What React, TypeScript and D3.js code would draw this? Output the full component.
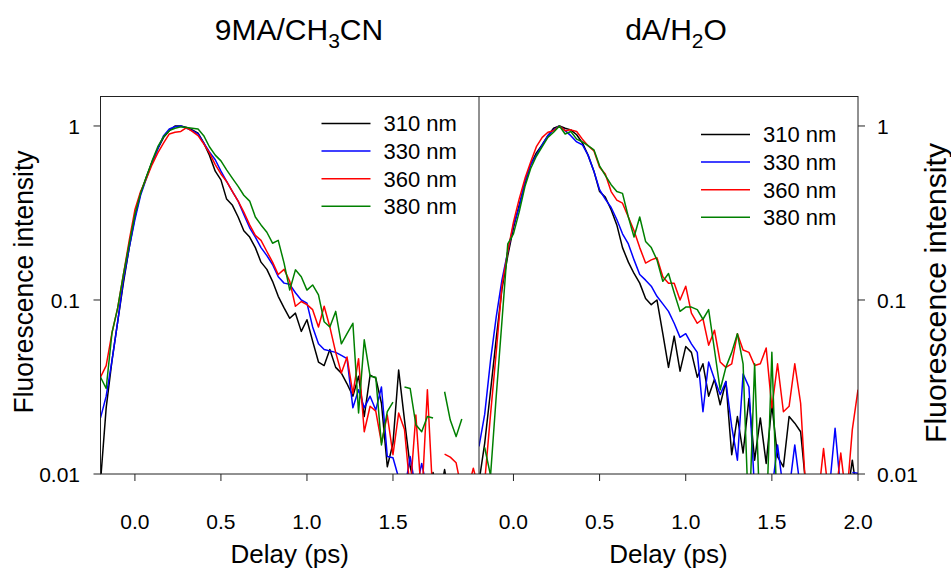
import React from "react";
import * as d3 from "d3";

const TIMES = [
  -0.2, -0.167, -0.133, -0.1, -0.067, -0.033, 0.0, 0.033, 0.067, 0.1, 0.133, 0.167, 0.2, 0.233, 0.267, 0.3,
  0.333, 0.367, 0.4, 0.433, 0.467, 0.5, 0.533, 0.567, 0.6, 0.633, 0.667, 0.7, 0.733, 0.767, 0.8, 0.833,
  0.867, 0.9, 0.933, 0.967, 1.0, 1.033, 1.067, 1.1, 1.133, 1.167, 1.2, 1.233, 1.267, 1.3, 1.333, 1.367,
  1.4, 1.433, 1.467, 1.5, 1.533, 1.567, 1.6, 1.633, 1.667, 1.7, 1.733, 1.767, 1.8, 1.833, 1.867, 1.9,
  1.933, 1.967, 2.0,
];

// 9MA / CH3CN panel
const L310 = [
  0.009, 0.024, 0.045, 0.075, 0.125, 0.2, 0.3, 0.41, 0.51, 0.62, 0.74, 0.86, 0.94, 1.0, 1.0, 0.98,
  0.95, 0.91, 0.8, 0.68, 0.55, 0.49, 0.38, 0.35, 0.3, 0.25, 0.23, 0.2, 0.165, 0.15, 0.128, 0.105,
  0.09, 0.0785, 0.084, 0.066, 0.077, 0.058, 0.044, 0.042, 0.052, 0.041, 0.038, 0.033, 0.028, 0.0365, 0.0214, 0.037,
  0.0356, 0.0255, 0.011, 0.015, 0.0396, 0.0204, 0.011, 0.008, 0.007, 0.007, 0.0102, 0.007, 0.0106, 0.007, null, null,
  null, null, null,
];
const L330 = [
  0.021, 0.028, 0.045, 0.075, 0.13, 0.2, 0.29, 0.4, 0.5, 0.62, 0.74, 0.88, 0.96, 0.99, 1.0, 0.97,
  0.94, 0.9, 0.8, 0.71, 0.64, 0.55, 0.48, 0.42, 0.37, 0.31, 0.26, 0.23, 0.2, 0.18, 0.16, 0.136,
  0.125, 0.123, 0.11, 0.1, 0.096, 0.07, 0.056, 0.052, 0.051, 0.05, 0.048, 0.046, 0.024, 0.0305, 0.024, 0.028,
  0.0233, 0.0316, 0.0126, 0.0124, 0.0095, 0.008, 0.0126, 0.008, 0.0115, 0.008, null, null, null, null, null, null,
  null, null, null,
];
const L360 = [
  0.036, 0.042, 0.065, 0.09, 0.14, 0.22, 0.33, 0.42, 0.5, 0.6, 0.7, 0.8, 0.9, 0.92, 0.93, 0.98,
  0.93, 0.88, 0.79, 0.7, 0.6, 0.53, 0.48, 0.42, 0.37, 0.32, 0.27, 0.235, 0.22, 0.19, 0.165, 0.14,
  0.15, 0.128, 0.092, 0.098, 0.094, 0.088, 0.07, 0.092, 0.07, 0.05, 0.038, 0.047, 0.029, 0.046, 0.0175, 0.0245,
  0.023, 0.0151, 0.0218, 0.0129, 0.0224, 0.018, 0.008, 0.0218, 0.007, 0.0305, 0.007, null, 0.013, 0.0125, 0.0116, 0.008,
  0.008, 0.0108, 0.008,
];
const L380 = [
  0.036, 0.031, 0.065, 0.09, 0.14, 0.21, 0.31, 0.41, 0.51, 0.63, 0.76, 0.87, 0.94, 0.97, 0.99, 0.98,
  0.97, 0.96, 0.88, 0.76, 0.68, 0.63, 0.56, 0.5, 0.45, 0.4, 0.37, 0.3, 0.27, 0.245, 0.212, 0.22,
  0.163, 0.114, 0.149, 0.136, 0.114, 0.122, 0.107, 0.075, 0.07, 0.086, 0.056, 0.064, 0.0735, 0.0224, 0.059, 0.0365,
  0.036, 0.0147, 0.0228, 0.0259, null, 0.0316, 0.031, 0.0192, 0.0175, 0.0214, 0.021, null, 0.0297, 0.0204, 0.0164, 0.0207,
  null, null, null,
];

// dA / H2O panel
const R310 = [
  0.009, 0.015, 0.03, 0.06, 0.115, 0.18, 0.26, 0.35, 0.47, 0.6, 0.7, 0.78, 0.88, 0.97, 1.0, 0.97,
  0.95, 0.89, 0.8, 0.68, 0.55, 0.42, 0.39, 0.33, 0.27, 0.2, 0.165, 0.142, 0.125, 0.102, 0.094, 0.1,
  0.064, 0.041, 0.062, 0.039, 0.054, 0.05, 0.036, 0.043, 0.028, 0.035, 0.025, 0.034, 0.0129, 0.0214, 0.0132, 0.0272,
  0.012, 0.021, 0.0115, 0.025, 0.0126, 0.011, 0.0214, 0.0196, 0.0175, 0.008, null, null, null, null, null, null,
  0.007, 0.012, 0.007,
];
const R330 = [
  0.0144, 0.022, 0.045, 0.08, 0.13, 0.19, 0.27, 0.34, 0.48, 0.6, 0.68, 0.78, 0.88, 0.95, 1.0, 0.94,
  0.88, 0.81, 0.78, 0.68, 0.55, 0.43, 0.38, 0.34, 0.29, 0.24, 0.21, 0.17, 0.14, 0.13, 0.12, 0.105,
  0.095, 0.086, 0.0735, 0.061, 0.064, 0.056, 0.05, 0.0228, 0.044, 0.035, 0.0286, 0.034, 0.0187, 0.012, 0.0376, 0.0316,
  0.008, 0.006, 0.006, 0.008, 0.0147, 0.008, 0.008, 0.0147, 0.008, null, null, null, 0.008, 0.008, 0.0183, 0.008,
  null, 0.0102, 0.0101,
];
const R360 = [
  null, 0.009, 0.022, 0.05, 0.12, 0.19, 0.28, 0.38, 0.5, 0.62, 0.76, 0.86, 0.92, 0.94, 1.0, 0.94,
  0.95, 0.93, 0.84, 0.77, 0.72, 0.58, 0.53, 0.42, 0.375, 0.36, 0.3, 0.25, 0.2, 0.163, 0.17, 0.175,
  0.136, 0.125, 0.125, 0.1, 0.12, 0.084, 0.0735, 0.078, 0.055, 0.067, 0.044, 0.041, 0.043, 0.064, 0.0516, 0.05,
  0.042, 0.043, 0.053, 0.024, 0.043, 0.0228, 0.0245, 0.043, 0.0255, 0.007, null, 0.007, 0.014, 0.007, 0.007, 0.0132,
  0.007, 0.018, 0.0305,
];
const R380 = [
  null, 0.0142, 0.0098, 0.028, 0.075, 0.21, 0.24, 0.32, 0.45, 0.57, 0.67, 0.76, 0.86, 0.92, 1.0, 0.9,
  0.93, 0.84, 0.81, 0.77, 0.73, 0.59, 0.52, 0.46, 0.42, 0.41, 0.3, 0.23, 0.3, 0.217, 0.2, 0.17,
  0.128, 0.142, 0.11, 0.086, 0.091, 0.091, 0.088, 0.0775, 0.088, 0.0516, 0.0305, 0.041, 0.05, 0.064, 0.043, 0.005,
  0.043, 0.005, 0.005, 0.05, 0.005, null, null, null, null, null, null, null, null, null, null, null,
  null, null, null,
];

const SERIES_NAMES = ["310 nm", "330 nm", "360 nm", "380 nm"];
const SERIES_COLORS = ["#000000", "#0000ff", "#ff0000", "#008000"];
const LEFT_SERIES = [L310, L330, L360, L380];
const RIGHT_SERIES = [R310, R330, R360, R380];
const LEFT_X_TICKS = [0, 0.5, 1.0, 1.5];
const RIGHT_X_TICKS = [0, 0.5, 1.0, 1.5, 2.0];
const Y_TICKS = [1, 0.1, 0.01];
const Y_TICK_LABELS = ["1", "0.1", "0.01"];
const X_DOMAIN = [-0.2, 2.0];
const Y_DOMAIN = [0.01, 1.487];

const FONT = "Liberation Sans, Arial, Helvetica, sans-serif";
const TOP = 96;
const BOTTOM = 474;

type PanelProps = {
  id: string;
  x0: number;
  x1: number;
  series: (number | null)[][];
  xTicks: number[];
  yAxisSide: "left" | "right";
  legendX: number;
  legendY: number;
};

function Panel({ id, x0, x1, series, xTicks, yAxisSide, legendX, legendY }: PanelProps) {
  const x = d3.scaleLinear().domain(X_DOMAIN).range([x0, x1]);
  const y = d3.scaleLog().domain(Y_DOMAIN).range([BOTTOM, TOP]);
  const line = d3
    .line<number | null>()
    .defined((d) => d != null && d > 0)
    .x((_, i) => x(TIMES[i]))
    .y((d) => y(d as number));
  const axisX = yAxisSide === "left" ? x0 : x1;
  const dir = yAxisSide === "left" ? -1 : 1;
  return (
    <g>
      <defs>
        <clipPath id={id}>
          <rect x={x0} y={TOP} width={x1 - x0} height={BOTTOM - TOP} />
        </clipPath>
      </defs>
      <g clipPath={`url(#${id})`}>
        {series.map((s, k) => (
          <path key={k} d={line(s) || ""} fill="none" stroke={SERIES_COLORS[k]} strokeWidth={1.5} strokeLinejoin="round" />
        ))}
      </g>
      {xTicks.map((t) => (
        <g key={t}>
          <line x1={x(t)} x2={x(t)} y1={BOTTOM} y2={BOTTOM + 7} stroke="#222" strokeWidth={1} />
          <text x={x(t)} y={529} textAnchor="middle" fontFamily={FONT} fontSize={21} fill="#000">
            {t.toFixed(1)}
          </text>
        </g>
      ))}
      {Y_TICKS.map((v, i) => (
        <g key={v}>
          <line x1={axisX} x2={axisX + dir * 7} y1={y(v)} y2={y(v)} stroke="#222" strokeWidth={1} />
          <text
            x={yAxisSide === "left" ? 80 : 877}
            y={y(v)}
            dy="0.36em"
            textAnchor={yAxisSide === "left" ? "end" : "start"}
            fontFamily={FONT}
            fontSize={21}
            fill="#000"
          >
            {Y_TICK_LABELS[i]}
          </text>
        </g>
      ))}
      <text x={(x0 + x1) / 2} y={563} textAnchor="middle" fontFamily={FONT} fontSize={26} fill="#000">
        Delay (ps)
      </text>
      {SERIES_NAMES.map((name, k) => {
        const ly = legendY + k * 27.6;
        return (
          <g key={name}>
            <line x1={legendX} x2={legendX + 49} y1={ly} y2={ly} stroke={SERIES_COLORS[k]} strokeWidth={1.5} />
            <text x={legendX + 62} y={ly} dy="0.36em" fontFamily={FONT} fontSize={22} fill="#000">
              {name}
            </text>
          </g>
        );
      })}
    </g>
  );
}

export default function App() {
  return (
    <svg width={951} height={570} style={{ display: "block", position: "absolute", left: 0, top: 0, background: "#fff" }}>
      <rect x={0} y={0} width={951} height={570} fill="#fff" />
      <Panel id="clipL" x0={100.5} x1={479} series={LEFT_SERIES} xTicks={LEFT_X_TICKS} yAxisSide="left" legendX={321.5} legendY={123.5} />
      <Panel id="clipR" x0={479} x1={858} series={RIGHT_SERIES} xTicks={RIGHT_X_TICKS} yAxisSide="right" legendX={701} legendY={134.5} />
      <rect x={100.5} y={96.5} width={757.5} height={377.5} fill="none" stroke="#222" strokeWidth={1} />
      <line x1={479} x2={479} y1={96.5} y2={474} stroke="#222" strokeWidth={1} />
      <text x={299} y={40} textAnchor="middle" fontFamily={FONT} fontSize={30} fill="#000">
        9MA/CH<tspan fontSize={21} dy={8}>3</tspan>
        <tspan dy={-8}>CN</tspan>
      </text>
      <text x={676} y={40} textAnchor="middle" fontFamily={FONT} fontSize={30} fill="#000">
        dA/H<tspan fontSize={21} dy={8}>2</tspan>
        <tspan dy={-8}>O</tspan>
      </text>
      <text
        transform="translate(33,282) rotate(-90)"
        textAnchor="middle"
        fontFamily={FONT}
        fontSize={27}
        textLength={263}
        lengthAdjust="spacingAndGlyphs"
        fill="#000"
      >
        Fluorescence intensity
      </text>
      <text
        transform="translate(946,293) rotate(-90)"
        textAnchor="middle"
        fontFamily={FONT}
        fontSize={30}
        textLength={300}
        lengthAdjust="spacingAndGlyphs"
        fill="#000"
      >
        Fluorescence intensity
      </text>
    </svg>
  );
}
